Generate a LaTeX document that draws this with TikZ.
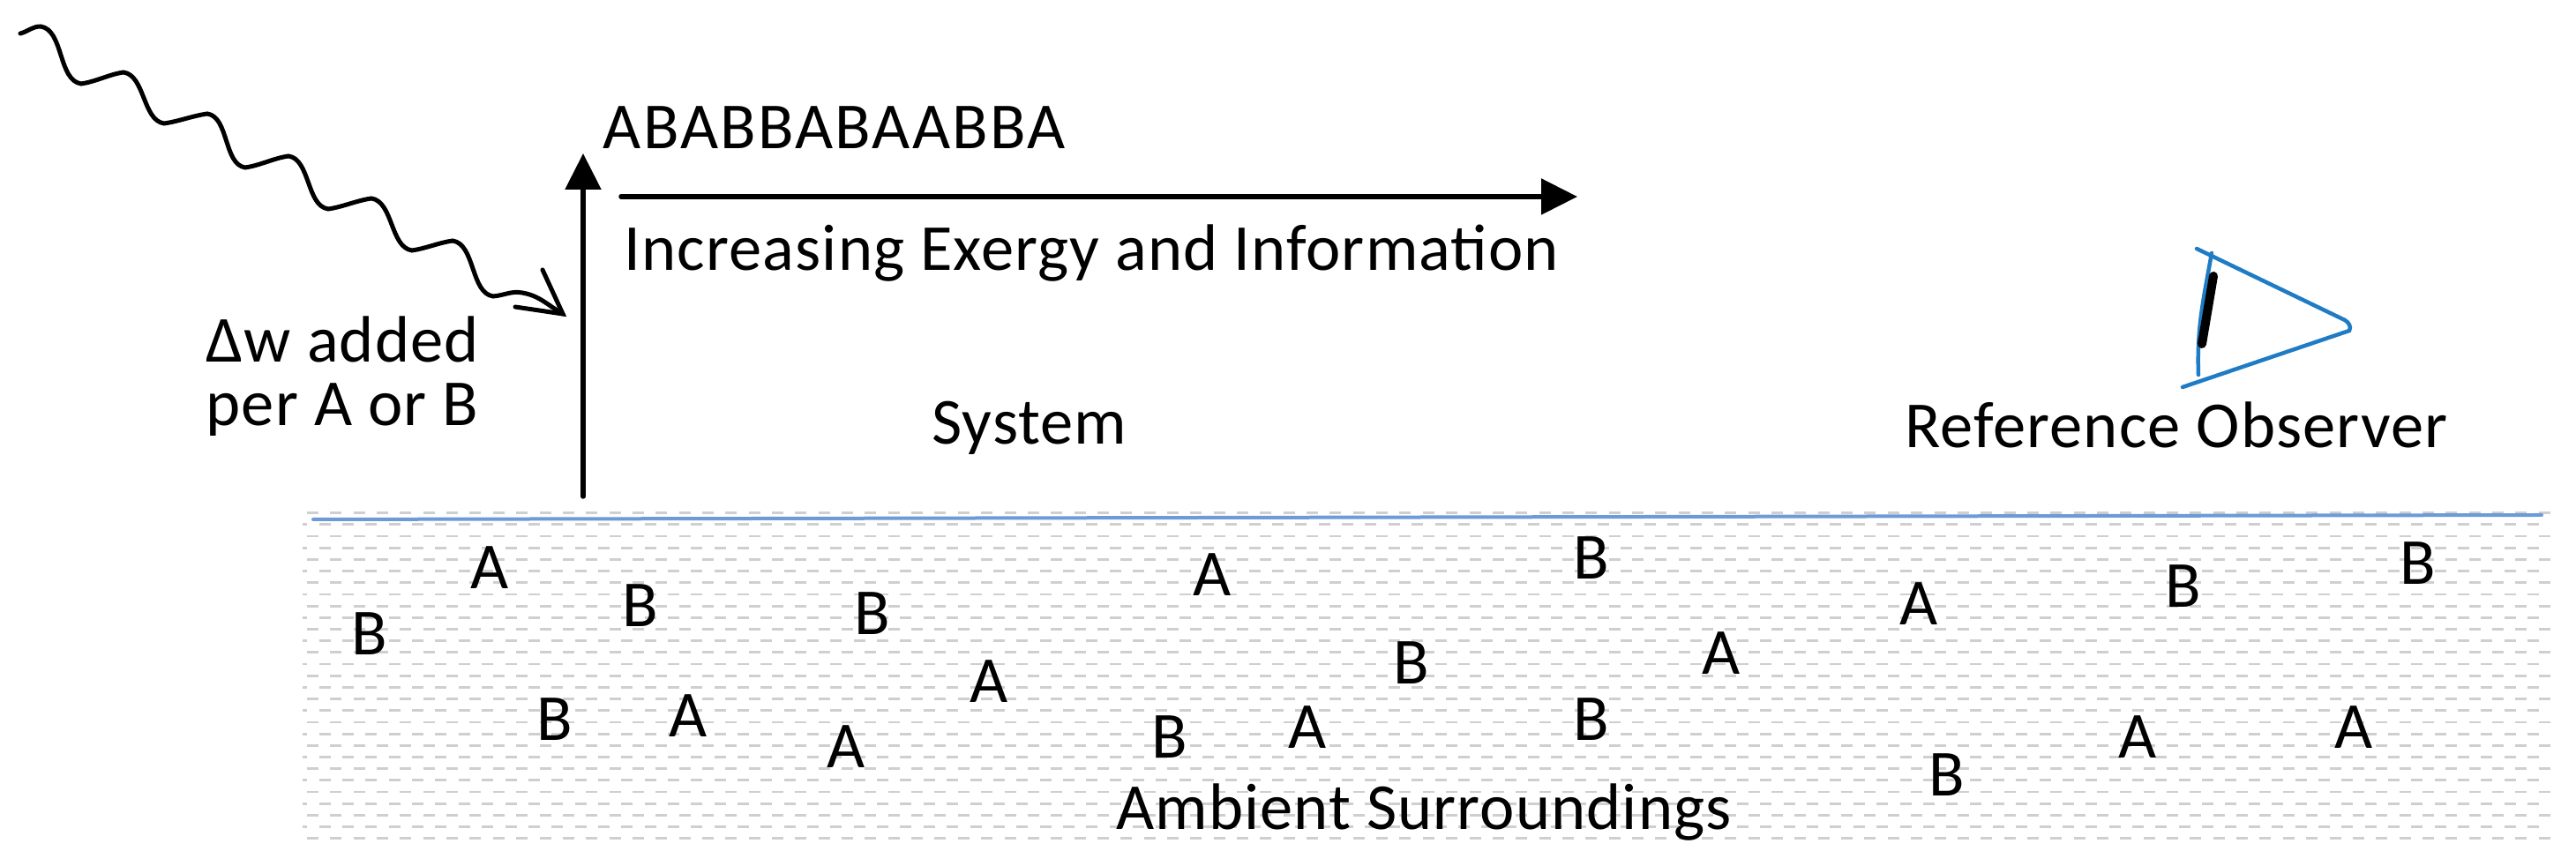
\documentclass[tikz,border=0pt]{standalone}
\usepackage{fontspec}
\setmainfont{Carlito}[LetterSpace=1.5]
\usepackage{tikz}
\usetikzlibrary{calc, arrows.meta}
\usepackage{tkz-euclide}
\definecolor{lineblue}{HTML}{6C9BD8}
\definecolor{eyeblue}{HTML}{1F7CC4}
\tikzset{
    txt/.style={inner sep=0pt, font=\fontsize{21.2}{25}\selectfont},
    stroke/.style={line width=0.055cm, black},
    bigarrow/.style={stroke, -{Triangle[length=0.41cm,width=0.40cm]}},
    eye/.style={line width=0.045cm, eyeblue, line cap=round},
    hatch/.style={line width=0.028cm, gray!38},
    wfall/.style={out=-8,in=172,looseness=0.85},
    wrise/.style={out=8,in=188,looseness=0.85}
}

\begin{document}
\begin{tikzpicture}
        \useasboundingbox (0,0) rectangle (29.2,9.82);

	% surroundings
	\foreach \r in {0,...,14}
	    \foreach \c in {0,...,96}
	        \draw[hatch] ({3.48+\c*0.2635},{4.003-\r*0.2636}) -- ++(0.13,0);
	\foreach \r in {0,...,13} {
	    \draw[hatch] (3.43,{3.871-\r*0.2636}) -- ++(0.05,0);
	    \foreach \c in {0,...,95}
	        \draw[hatch] ({3.617+\c*0.2635},{3.871-\r*0.2636}) -- ++(0.13,0);
	}
	\tkzDefPoints{3.55/3.93/L,28.81/3.98/R}
	\tkzDrawSegment[line width=0.04cm, lineblue](L,R)

	% wavy arrow
	\tkzDefPoints{.23/9.44/W0,.46/9.52/W1,.92/8.87/W2,1.40/9.00/W3,1.86/8.42/W4,2.35/8.53/W5,2.78/7.92/W6}
	\tkzDefPoints{3.27/8.05/W7,3.72/7.45/W8,4.21/7.57/W9,4.67/6.98/W10,5.13/7.09/W11,5.59/6.46/W12,5.92/6.50/W13}
	\tkzDefPoints{6.38/6.26/T,6.15/6.76/Ba,5.84/6.34/Bb}
	\draw[line width=0.05cm, line cap=round] (W0) to[out=15,in=180] (W1) to[wfall] (W2) to[wrise] (W3) to[wfall] (W4) to[wrise] (W5) to[wfall] (W6)
	    to[wrise] (W7) to[wfall] (W8) to[wrise] (W9) to[wfall] (W10) to[wrise] (W11) to[wfall] (W12) to[out=5,in=170] (W13) to[out=-10,in=150] (T);
	\draw[line width=0.05cm, line cap=round, line join=miter] (Ba) -- (T) -- (Bb);

	% axes
	\tkzDefPoints{6.61/4.19/U,6.61/8.08/V,7.04/7.59/P,17.88/7.59/Q}
	\tkzDrawSegment[bigarrow](U,V)
	\tkzDrawSegment[bigarrow](P,Q)

	% observer
	\tkzDefPoints{24.90/7.00/E1,26.58/6.19/E2,26.63/6.07/E3,24.74/5.43/E4,25.07/6.95/E5,24.92/5.57/E6,25.09/6.69/I1,24.96/5.92/I2}
	\draw[eye] (E1) -- (E2) to[out=-30,in=60] (E3) -- (E4);
	\draw[eye] (E5) to[out=-100,in=92] (E6);
	\tkzDrawSegment[line width=0.10cm, black](I1,I2)

	% labels
	\node[txt, anchor=west] (seq) at (6.83,8.37) {\addfontfeature{LetterSpace=3}ABABBABAABBA};
	\node[txt, anchor=west] (incr) at (7.07,6.95) {Increasing Exergy and Information};
	\node[txt, anchor=west] (dw) at (2.33,5.97) {Δw added};
	\node[txt, anchor=west] (per) at (2.33,5.17) {per A or B};
	\node[txt] (sys) at (11.67,4.97) {System};
	\node[txt] (obs) at (24.67,5.00) {Reference Observer};
	\node[txt] (amb) at (16.14,0.61) {Ambient Surroundings};

	% letters
	\foreach \x/\y/\t [count=\i] in {5.55/644/A,4.19/719/B,7.26/687/B,9.89/696/B,13.74/652/A,18.04/633/B,21.75/685/A,24.75/665/B,27.41/639/B,
	    11.21/773/A,16.00/752/B,19.51/741/A,6.29/816/B,7.80/812/A,9.59/847/A,13.26/836/B,14.82/825/A,18.04/816/B,22.07/879/B,24.23/836/A,26.68/825/A}
	    \node[txt] (s\i) at (\x,{9.82-\y/100}) {\t};
\end{tikzpicture}
\end{document}
